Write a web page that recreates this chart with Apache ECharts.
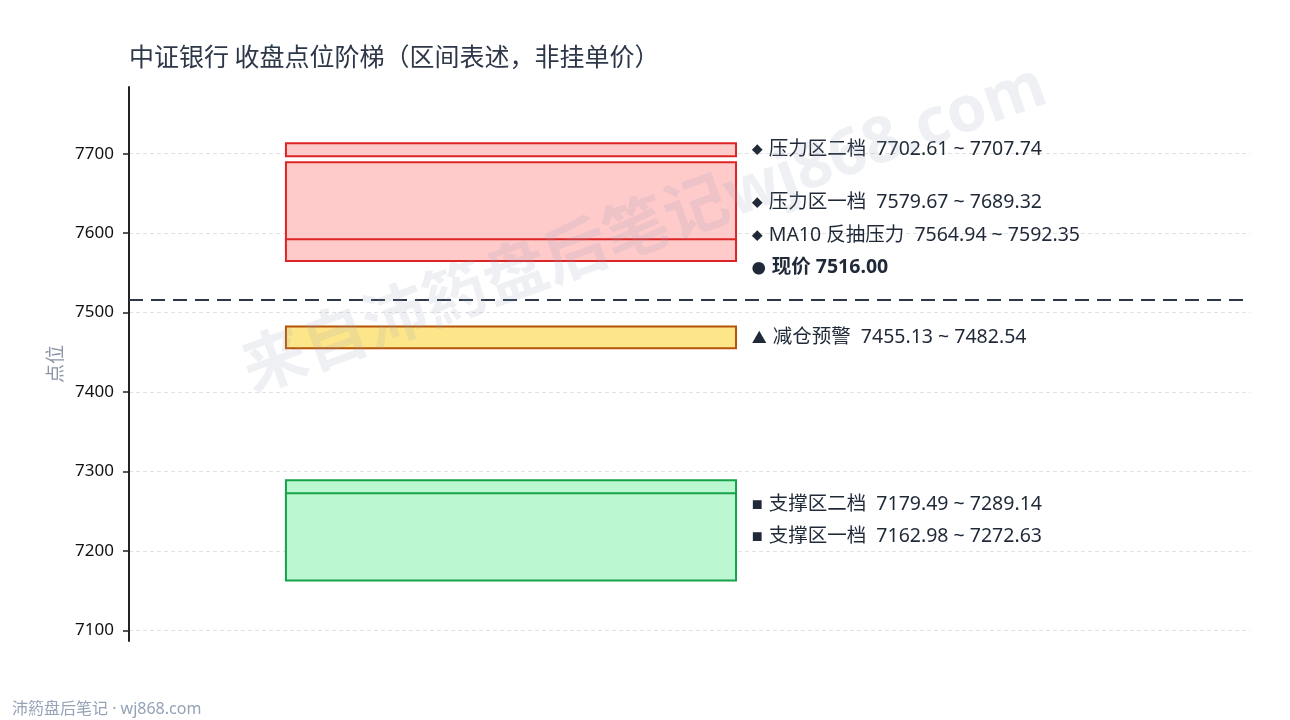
<!DOCTYPE html>
<html>
<head>
<meta charset="utf-8">
<script src="https://cdn.jsdelivr.net/npm/echarts@6/dist/echarts.min.js"></script>
<style>
  html, body { margin: 0; padding: 0; background: #fff; }
  #chart { width: 1290px; height: 720px; }
</style>
</head>
<body>
<div id="chart"></div>
<script>
// 区间数据（绘制顺序即叠放顺序）
const zoneNames = ['压力区二档', '压力区一档', 'MA10 反抽压力', '减仓预警', '支撑区二档', '支撑区一档'];
const zoneLow   = [7702.61, 7579.67, 7564.94, 7455.13, 7179.49, 7162.98];
const zoneHigh  = [7707.74, 7689.32, 7592.35, 7482.54, 7289.14, 7272.63];
const zoneKind  = ['press', 'press', 'press', 'warn', 'support', 'support'];
const lastPrice = 7516.00;
const yTicks    = [7100, 7200, 7300, 7400, 7500, 7600, 7700];

const kindStyle = {
  press:   { fill: '#fecaca', stroke: '#dc2626', mark: '◆', markSize: 11 },
  warn:    { fill: '#fde68a', stroke: '#b45309', mark: '▲', markSize: 15 },
  support: { fill: '#bbf7d0', stroke: '#16a34a', mark: '■', markSize: 11 }
};

const BOX_X0 = 0.14, BOX_X1 = 0.5415, LABEL_X = 0.5555;
const MIN_BOX_H = 13;     // 过窄区间的最小显示高度(px)
const LABEL_GAP = 32.5;   // 标签最小间距(px)
const PRICE_LIFT = 32;    // 现价标签抬高(px)

// y 轴范围：上下各留 14%
const lo = Math.min(...zoneLow), hi = Math.max(...zoneHigh);
const pad = (hi - lo) * 0.14;

// 标签列表：各区间 + 现价
const labels = zoneNames.map((n, i) => ({
  text: n + '  ' + zoneLow[i].toFixed(2) + ' ~ ' + zoneHigh[i].toFixed(2),
  anchor: (zoneLow[i] + zoneHigh[i]) / 2,
  mark: kindStyle[zoneKind[i]].mark,
  markSize: kindStyle[zoneKind[i]].markSize,
  isPrice: false
}));
labels.push({ text: '现价 ' + lastPrice.toFixed(2), anchor: lastPrice, mark: '●', markSize: 14, isPrice: true });

function layoutLabels(api) {
  const ys = labels.map(l => api.coord([LABEL_X, l.anchor])[1] - (l.isPrice ? PRICE_LIFT : 0));
  const order = ys.map((y, i) => i).sort((a, b) => ys[b] - ys[a]);
  const out = ys.slice();
  for (let k = 1; k < order.length; k++) {
    const i = order[k], prev = order[k - 1];
    out[i] = Math.min(out[i], out[prev] - LABEL_GAP);
  }
  return out;
}

const FONT = "'Noto Sans CJK SC', 'Noto Sans', sans-serif";
const FONT_MIX = "'Noto Sans', 'Noto Sans CJK SC', sans-serif";

const chart = echarts.init(document.getElementById('chart'));

chart.setOption({
  animation: false,
  backgroundColor: '#fff',
  title: {
    text: '中证银行 收盘点位阶梯（区间表述，非挂单价）',
    left: 129, top: 44, padding: 0,
    textStyle: { fontSize: 25, fontWeight: 'normal', color: '#2d3748', fontFamily: FONT }
  },
  grid: { left: 129, right: 40, top: 87, bottom: 79 },
  xAxis: { type: 'value', min: 0, max: 1, show: false },
  yAxis: {
    type: 'value',
    min: lo - pad, max: hi + pad,
    name: '点位',
    nameLocation: 'middle',
    nameGap: 62,
    nameTextStyle: { fontSize: 19, color: '#8a94a6', fontFamily: FONT },
    axisLine: { show: true, lineStyle: { color: '#222', width: 2 } },
    axisTick: { show: true, length: 6, lineStyle: { color: '#222', width: 1.5 },
      customValues: yTicks },
    axisLabel: { fontSize: 17, color: '#111', margin: 15, fontFamily: "'Noto Sans', sans-serif",
      customValues: yTicks, formatter: v => String(v) },
    splitLine: { show: true, lineStyle: { color: '#e2e2e2', type: [4, 3], width: 1 } }
  },
  series: [
    {
      type: 'custom',
      name: 'zones',
      coordinateSystem: 'cartesian2d',
      encode: { y: [0, 1] },
      data: zoneLow.map((v, i) => [v, zoneHigh[i]]),
      renderItem: function (params, api) {
        const i = params.dataIndex;
        const st = kindStyle[zoneKind[i]];
        const p0 = api.coord([BOX_X0, api.value(1)]);
        const p1 = api.coord([BOX_X1, api.value(0)]);
        let top = p0[1], h = p1[1] - p0[1];
        if (h < MIN_BOX_H) { top = (p0[1] + p1[1]) / 2 - MIN_BOX_H / 2; h = MIN_BOX_H; }
        return {
          type: 'rect',
          shape: { x: p0[0], y: top, width: p1[0] - p0[0], height: h },
          style: { fill: st.fill, stroke: st.stroke, lineWidth: 2 }
        };
      },
      markLine: {
        silent: true,
        symbol: 'none',
        label: { show: false },
        lineStyle: { color: '#2d3748', width: 2, type: [14, 8] },
        data: [{ yAxis: lastPrice }]
      },
      z: 2
    },
    {
      type: 'custom',
      name: 'labels',
      coordinateSystem: 'cartesian2d',
      data: labels.map(l => [LABEL_X, l.anchor]),
      renderItem: function (params, api) {
        const ys = layoutLabels(api);
        const l = labels[params.dataIndex];
        const x = api.coord([LABEL_X, l.anchor])[0];
        return {
          type: 'text',
          x: x, y: ys[params.dataIndex],
          style: {
            text: '{m|' + l.mark + '}{t|' + l.text + '}',
            verticalAlign: 'middle',
            align: 'left',
            rich: {
              m: { fontSize: l.markSize, fill: '#1f2937', fontFamily: FONT, padding: [0, 6, 0, 0] },
              t: { fontSize: 19.5, fill: '#1f2937', fontFamily: FONT_MIX,
                   fontWeight: l.isPrice ? 'bold' : 'normal' }
            }
          }
        };
      },
      z: 3
    }
  ],
  graphic: [
    {
      type: 'text',
      x: 645, y: 230,
      rotation: 20 * Math.PI / 180,
      z: 10, silent: true,
      style: {
        text: '来自沛箹盘后笔记wj868.com',
        fontSize: 64, fontWeight: 'bold', fontFamily: FONT_MIX,
        fill: 'rgba(148,160,185,0.16)',
        align: 'center', verticalAlign: 'middle'
      }
    },
    {
      type: 'text',
      left: 12, bottom: 3,
      style: {
        text: '沛箹盘后笔记 · wj868.com',
        fontSize: 16, fontFamily: FONT_MIX, fill: '#94a3b8'
      }
    }
  ]
});
</script>
</body>
</html>
